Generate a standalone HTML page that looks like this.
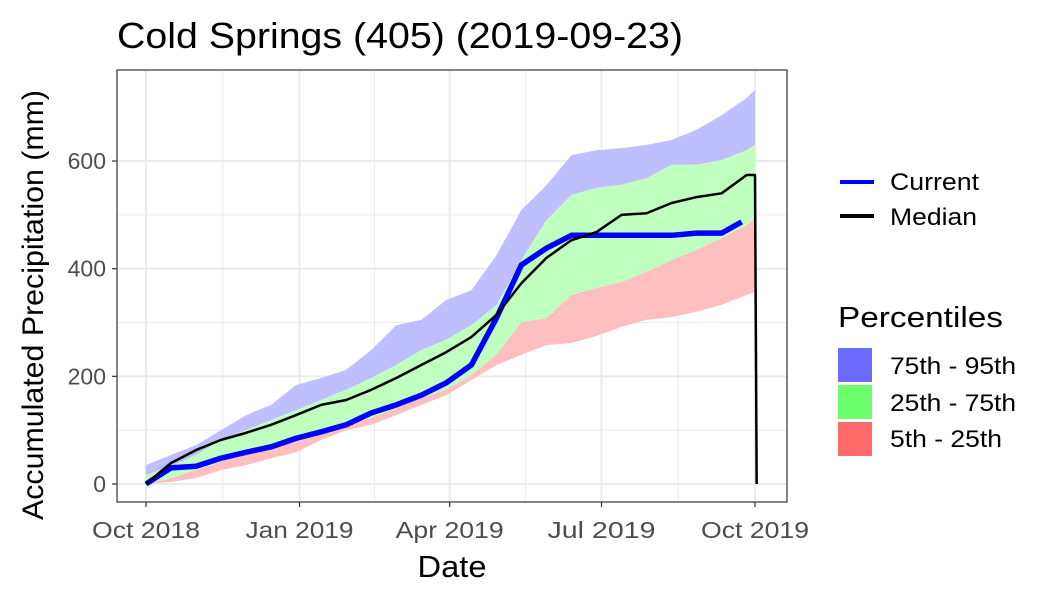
<!DOCTYPE html>
<html><head><meta charset="utf-8"><style>
body{margin:0;background:#fff;font-family:"Liberation Sans",sans-serif}
</style></head><body>
<svg width="1050" height="600" viewBox="0 0 1050 600" xmlns="http://www.w3.org/2000/svg">
<text x="117" y="48" font-size="36" textLength="566" lengthAdjust="spacingAndGlyphs" fill="#000">Cold Springs (405) (2019-09-23)</text>
<rect x="117" y="70" width="670" height="432" fill="#fff" stroke="none"/>
<g id="grid"></g>
<g id="ribbons"></g>
<g id="lines"></g>
<rect x="117" y="70" width="670" height="432" fill="none" stroke="#333" stroke-width="1.2"/>
<g id="axes"></g>
<text x="452" y="577" font-size="31" text-anchor="middle" textLength="69" lengthAdjust="spacingAndGlyphs">Date</text>
<text transform="translate(43,305) rotate(-90)" font-size="30" text-anchor="middle" textLength="430" lengthAdjust="spacingAndGlyphs">Accumulated Precipitation (mm)</text>
<g>
<line x1="840" y1="182" x2="874" y2="182" stroke="#0000ff" stroke-width="4"/>
<text x="890" y="190" font-size="24" textLength="89" lengthAdjust="spacingAndGlyphs">Current</text>
<line x1="840" y1="216" x2="874" y2="216" stroke="#000" stroke-width="4"/>
<text x="890" y="225" font-size="24" textLength="87" lengthAdjust="spacingAndGlyphs">Median</text>
<text x="838" y="327" font-size="29" textLength="165" lengthAdjust="spacingAndGlyphs">Percentiles</text>
<rect x="838" y="348" width="34" height="34" fill="#6b6bff"/>
<text x="890" y="374" font-size="24" textLength="126" lengthAdjust="spacingAndGlyphs">75th - 95th</text>
<rect x="838" y="385" width="34" height="34" fill="#6bff6b"/>
<text x="890" y="411" font-size="24" textLength="126" lengthAdjust="spacingAndGlyphs">25th - 75th</text>
<rect x="838" y="422" width="34" height="34" fill="#ff6b6b"/>
<text x="890" y="447" font-size="24" textLength="112" lengthAdjust="spacingAndGlyphs">5th - 25th</text>
</g>
</svg>
<script>
const days = [0,15,30,45,60,75,90,105,120,135,150,165,180,195,210,225,240,255,270,285,300,315,330,345,360,365];
const p95 = [35,54,72,100,128,147,184,197,212,249,295,305,342,360,425,509,555,611,620,624,630,639,658,685,717,732];
const p75 = [17,32,54,82,100,119,137,156,175,197,221,249,268,295,332,416,490,537,550,556,568,593,593,602,620,630];
const p25 = [0,11,26,41,54,67,82,100,110,123,141,160,175,202,240,301,308,351,364,375,394,416,435,457,481,494];
const p5 = [0,4,11,26,35,48,59,82,100,110,128,147,165,193,221,240,258,262,275,292,305,310,320,333,351,357];
const medianDays = [0,15,30,45,60,75,90,105,120,135,150,165,180,195,210,225,240,255,270,285,300,315,330,345,360,365,366];
const medianVals = [0,39,63,82,95,110,128,147,156,175,197,221,245,273,314,373,420,453,468,500,503,522,533,540,574,574,0];
const currentDays = [0,15,30,45,60,75,90,105,120,135,150,165,180,195,210,225,240,255,270,285,300,315,330,345,357];
const currentVals = [0,30,33,48,59,69,85,97,110,132,147,165,188,221,308,407,438,462,462,462,462,462,466,466,487];
const yTicks = [0,200,400,600];
const xTickDays = [0,92,182,273,365];
const xTickLabels = ["Oct 2018","Jan 2019","Apr 2019","Jul 2019","Oct 2019"];

const NS="http://www.w3.org/2000/svg";
const X = d => 146 + d*(609/365);
const Y = v => 484 - v*0.5383;
function mk(tag, attrs, parent){const e=document.createElementNS(NS,tag);for(const k in attrs)e.setAttribute(k,attrs[k]);document.getElementById(parent).appendChild(e);return e;}

for(let i=0;i<yTicks.length;i++){
  const l=mk('line',{x1:117,x2:787,y1:Y(yTicks[i]),y2:Y(yTicks[i]),stroke:'#ebebeb','stroke-width':2},'grid');
  
  
  if(i<yTicks.length-1){
    const m=mk('line',{x1:117,x2:787,y1:Y((yTicks[i]+yTicks[i+1])/2),y2:Y((yTicks[i]+yTicks[i+1])/2),stroke:'#ebebeb','stroke-width':1},'grid');
    
    
  }
  const t=mk('text',{x:106,y:Y(yTicks[i])+8,'font-size':23,'text-anchor':'end',fill:'#4d4d4d'},'axes');
  t.textContent=yTicks[i];
  
  
  const tk=mk('line',{x1:112,x2:117,y1:Y(yTicks[i]),y2:Y(yTicks[i]),stroke:'#333','stroke-width':1.2},'axes');
  
  
}
for(let i=0;i<xTickDays.length;i++){
  const l=mk('line',{x1:X(xTickDays[i]),x2:X(xTickDays[i]),y1:70,y2:502,stroke:'#ebebeb','stroke-width':2},'grid');
  
  
  if(i<xTickDays.length-1){
    const mx=X((xTickDays[i]+xTickDays[i+1])/2);
    const m=mk('line',{x1:mx,x2:mx,y1:70,y2:502,stroke:'#ebebeb','stroke-width':1},'grid');
    
    
  }
  const t=mk('text',{x:X(xTickDays[i]),y:538,'font-size':23,'text-anchor':'middle',fill:'#4d4d4d',textLength:108,lengthAdjust:'spacingAndGlyphs'},'axes');
  t.textContent=xTickLabels[i];
  
  
  const tk=mk('line',{x1:X(xTickDays[i]),x2:X(xTickDays[i]),y1:502,y2:507,stroke:'#333','stroke-width':1.2},'axes');
  
  
}
function pts(ds,vs){return ds.map((d,i)=>[X(d),Y(vs[i])]);}
function band(lo,hi,color,name){
  const top=pts(days,hi), bot=pts(days,lo).reverse();
  const p=top.concat(bot).map(q=>q.join(',')).join(' ');
  const e=mk('polygon',{points:p,fill:color,stroke:'none'},'ribbons');
  
  
}
band(p75,p95,'#bfbfff','band-75-95');
band(p25,p75,'#bfffbf','band-25-75');
band(p5,p25,'#ffbfbf','band-5-25');
function line(ds,vs,color,w,name){
  const p=pts(ds,vs).map(q=>q.join(',')).join(' ');
  const e=mk('polyline',{points:p,fill:'none',stroke:color,'stroke-width':w,'stroke-linejoin':'round'},'lines');
  
  
}
line(currentDays,currentVals,'#0000ff',5.5,'current-line');
line(medianDays,medianVals,'#000',2.5,'median-line');
</script>
</body></html>
